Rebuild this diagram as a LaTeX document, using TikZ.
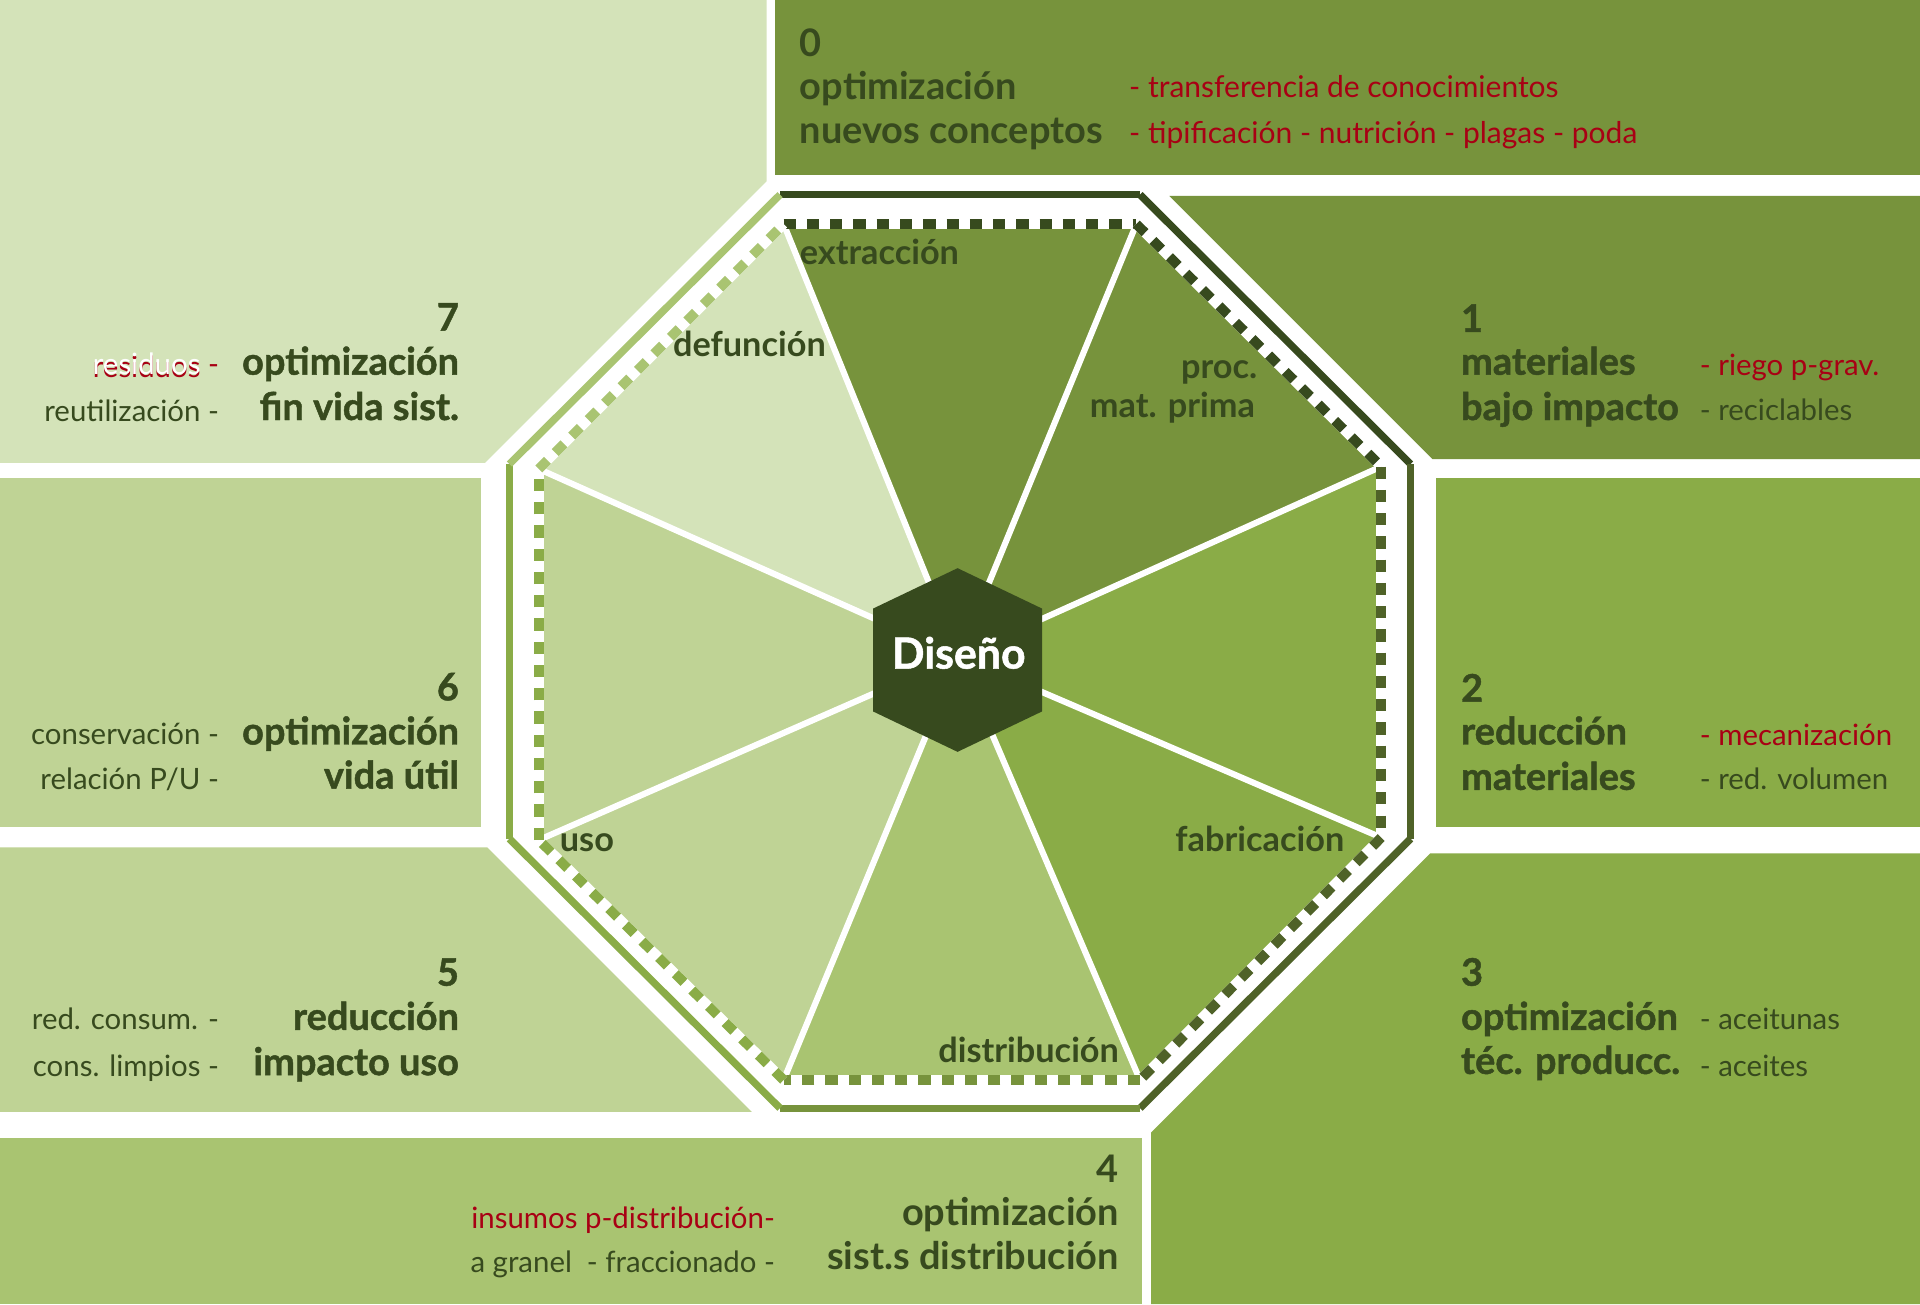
\documentclass[tikz,border=0pt]{standalone}
\usepackage{fontspec}
\setmainfont{Lato}
\newfontfamily\heavyfont{Lato}[BoldFeatures={FakeBold=1.2}]
\usetikzlibrary{positioning}

\definecolor{hexgreen}{RGB}{55,74,30}
\definecolor{darkolive}{RGB}{79,98,40}
\definecolor{olive}{RGB}{119,147,60}
\definecolor{leaf}{RGB}{138,172,71}
\definecolor{sage}{RGB}{169,196,113}
\definecolor{mint}{RGB}{191,211,149}
\definecolor{pale}{RGB}{212,227,185}
\definecolor{wine}{RGB}{168,0,20}

\tikzset{
  paneltitle/.style={font=\fontsize{31}{37}\selectfont\heavyfont\bfseries,text=hexgreen,inner sep=0pt},
  condtitle/.style={font=\fontsize{31}{37}\selectfont\bfseries,text=hexgreen,inner sep=0pt},
  panelside/.style={font=\fontsize{24}{30}\selectfont,text=hexgreen,inner sep=0pt},
  panelnote/.style={panelside,text=wine},
  phaselabel/.style={font=\fontsize{28}{32}\selectfont\bfseries,text=hexgreen,inner sep=0pt},
  rimline/.style={line width=6pt},
  dotline/.style={line width=8pt,dash pattern=on 10pt off 9pt},
}

\begin{document}
\begin{tikzpicture}[x=1pt,y=-1pt]
  \useasboundingbox (0,0) rectangle (1568,1065);
  \fill[white] (0,0) rectangle (1568,1065);

  % panels
  \fill[olive] (633,0) rectangle (1568,143);
  \fill[pale] (0,0) -- (626,0) -- (626,148) -- (396,378) -- (0,378) -- cycle;
  \fill[olive] (955,160) -- (1568,160) -- (1568,375) -- (1170,375) -- cycle;
  \fill[leaf] (1173,390) rectangle (1568,675);
  \fill[leaf] (1168,697) -- (1568,697) -- (1568,1065) -- (940,1065) -- (940,925) -- cycle;
  \fill[sage] (0,929) rectangle (933,1065);
  \fill[mint] (0,692) -- (398,692) -- (614,908) -- (0,908) -- cycle;
  \fill[mint] (0,390) rectangle (393,675);

  % octagon
  \coordinate (c) at (783,536);
  \coordinate (i1) at (640,183);
  \coordinate (i2) at (928,183);
  \coordinate (i3) at (1128,381);
  \coordinate (i4) at (1128,684);
  \coordinate (i5) at (931,882);
  \coordinate (i6) at (640,882);
  \coordinate (i7) at (440,686);
  \coordinate (i8) at (440,383);
  \coordinate (o1) at (637,159);
  \coordinate (o2) at (931,159);
  \coordinate (o3) at (1152,379);
  \coordinate (o4) at (1152,685);
  \coordinate (o5) at (931,905);
  \coordinate (o6) at (637,905);
  \coordinate (o7) at (416,685);
  \coordinate (o8) at (416,379);

  \foreach \a/\b/\col in {1/2/olive,2/3/olive,3/4/leaf,4/5/leaf,5/6/sage,6/7/mint,7/8/mint,8/1/pale}
    \fill[\col] (c) -- (i\a) -- (i\b) -- cycle;
  \foreach \v in {1,...,8}
    \draw[white,line width=5pt] (c) -- (i\v);
  \foreach \a/\b/\col in {1/2/hexgreen,2/3/hexgreen,3/4/darkolive,4/5/darkolive,5/6/olive,6/7/leaf,7/8/leaf,8/1/sage}{
    \draw[rimline,\col] (o\a) -- (o\b);
    \draw[white,line width=8pt] (i\a) -- (i\b);
    \draw[dotline,\col] (i\a) -- (i\b);
  }

  \fill[hexgreen] (782,464) -- (851,497) -- (851,581) -- (782,614) -- (713,581) -- (713,497) -- cycle;
  \node[font=\fontsize{35}{40}\selectfont\heavyfont\bfseries,text=white,inner sep=0pt,anchor=base] (diseno) at (783,546) {Diseño};

  % phases
  \node[phaselabel,anchor=base west] (extraccion) at (653,216) {extracción};
  \node[phaselabel,anchor=base] (defuncion) at (612,291) {defunción};
  \node[phaselabel,anchor=base east] (proc) at (1027,309) {proc.};
  \node[phaselabel,anchor=base east] (matprima) at (1025,341) {mat. prima};
  \node[phaselabel,anchor=base east] (fabricacion) at (1098,695) {fabricación};
  \node[phaselabel,anchor=base east] (distribucion) at (914,868) {distribución};
  \node[phaselabel,anchor=base west] (uso) at (457,695) {uso};

  % 0
  \node[condtitle,anchor=base west] (n0) at (653,46) {0};
  \node[condtitle,anchor=base west] (t0a) at (653,81) {optimización};
  \node[condtitle,anchor=base west] (t0b) at (653,117) {nuevos conceptos};
  \node[panelnote,font=\fontsize{24.5}{30}\selectfont,anchor=base west] (r0a) at (922,80) {- transferencia de conocimientos};
  \node[panelnote,font=\fontsize{24.5}{30}\selectfont,anchor=base west] (r0b) at (922,117) {- tipificación - nutrición - plagas - poda};

  % 1
  \node[paneltitle,anchor=base west] (n1) at (1193,271) {1};
  \node[paneltitle,anchor=base west] (t1a) at (1193,306) {materiales};
  \node[paneltitle,anchor=base west] (t1b) at (1193,343) {bajo impacto};
  \node[panelnote,anchor=base west] (r1a) at (1388,307) {- riego p-grav.};
  \node[panelside,anchor=base west] (s1b) at (1388,343) {- reciclables};

  % 2
  \node[paneltitle,anchor=base west] (n2) at (1193,573) {2};
  \node[paneltitle,anchor=base west] (t2a) at (1193,608) {reducción};
  \node[paneltitle,anchor=base west] (t2b) at (1193,645) {materiales};
  \node[panelnote,anchor=base west] (r2a) at (1388,609) {- mecanización};
  \node[panelside,anchor=base west] (s2b) at (1388,645) {- red. volumen};

  % 3
  \node[paneltitle,anchor=base west] (n3) at (1193,805) {3};
  \node[paneltitle,anchor=base west] (t3a) at (1193,841) {optimización};
  \node[paneltitle,anchor=base west] (t3b) at (1193,877) {téc. producc.};
  \node[panelside,anchor=base west] (s3a) at (1388,841) {- aceitunas};
  \node[panelside,anchor=base west] (s3b) at (1388,879) {- aceites};

  % 4
  \node[condtitle,anchor=base east] (n4) at (914,966) {4};
  \node[condtitle,anchor=base east] (t4a) at (914,1001) {optimización};
  \node[condtitle,anchor=base east] (t4b) at (914,1037) {sist.s distribución};
  \node[panelnote,anchor=base east] (r4a) at (633,1003) {insumos p-distribución-};
  \node[panelside,anchor=base east] (s4b) at (633,1039) {a granel\ \ - fraccionado -};

  % 5
  \node[paneltitle,anchor=base east] (n5) at (375,805) {5};
  \node[paneltitle,anchor=base east] (t5a) at (375,841) {reducción};
  \node[paneltitle,anchor=base east] (t5b) at (375,878) {impacto uso};
  \node[panelside,anchor=base east] (s5a) at (179,841) {red. consum. -};
  \node[panelside,anchor=base east] (s5b) at (179,879) {cons. limpios -};

  % 6
  \node[paneltitle,anchor=base east] (n6) at (375,572) {6};
  \node[paneltitle,anchor=base east] (t6a) at (375,608) {optimización};
  \node[paneltitle,anchor=base east] (t6b) at (375,644) {vida útil};
  \node[panelside,anchor=base east] (s6a) at (179,608) {conservación -};
  \node[panelside,anchor=base east] (s6b) at (179,645) {relación P/U -};

  % 7
  \node[paneltitle,anchor=base east] (n7) at (375,270) {7};
  \node[paneltitle,anchor=base east] (t7a) at (375,306) {optimización};
  \node[paneltitle,anchor=base east] (t7b) at (375,343) {fin vida sist.};
  \node[panelside,anchor=base east] (s7a) at (179,306)
    {\makebox[0pt][l]{\raisebox{-2pt}{\textcolor{wine}{residuos}}}\textcolor{white}{residuos}\ \textcolor{wine}{-}};
  \node[panelside,anchor=base east] (s7b) at (179,344) {reutilización -};
\end{tikzpicture}
\end{document}
